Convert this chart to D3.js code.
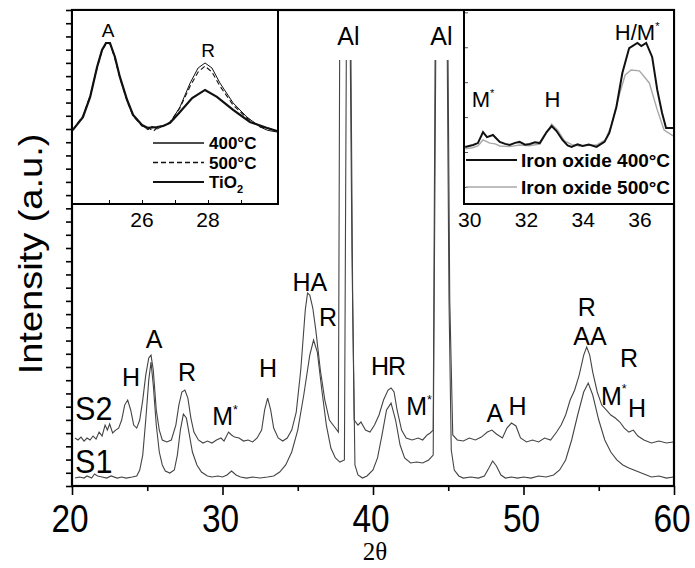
<!DOCTYPE html>
<html>
<head>
<meta charset="utf-8">
<script src="https://cdn.jsdelivr.net/npm/d3@7"></script>
<style>
  body { margin: 0; background: #fff; }
  svg { display: block; }
  text { font-family: "Liberation Sans", Arial, sans-serif; fill: #000; }
</style>
</head>
<body>
<div id="chart"></div>
<script>
// ---- data (2θ in degrees, intensity in a.u.) ----
const s1 = [
  [20.2, 6.0], [20.5, 6.8], [20.8, 6.0], [21.0, 7.6], [21.3, 6.0], [21.5, 9.1], [21.7, 7.6],
  [22.0, 6.8], [22.3, 6.0], [22.6, 7.6], [23.0, 6.0], [23.3, 6.8], [23.6, 6.0], [24.0, 6.8],
  [24.3, 7.6], [24.5, 12.1], [24.7, 23.4], [24.9, 49.9], [25.1, 80.1], [25.25, 93.7], [25.4, 76.4],
  [25.6, 46.1], [25.8, 25.7], [26.0, 15.9], [26.2, 11.3], [26.5, 9.8], [26.8, 12.1], [27.0, 23.4],
  [27.2, 42.3], [27.4, 54.4], [27.6, 51.4], [27.8, 38.6], [28.0, 25.7], [28.3, 15.9], [28.6, 10.6],
  [29.0, 7.6], [29.3, 6.8], [29.7, 7.6], [30.0, 6.8], [30.3, 8.3], [30.6, 11.3], [30.9, 8.3],
  [31.2, 6.8], [31.6, 6.0], [32.0, 6.8], [32.5, 6.0], [33.0, 6.8], [33.4, 7.6], [33.8, 10.6],
  [34.2, 15.9], [34.6, 25.7], [35.0, 42.3], [35.4, 68.8], [35.8, 99.0], [36.05, 110.4], [36.3, 101.3],
  [36.6, 72.6], [36.9, 46.1], [37.2, 28.7], [37.5, 21.2], [37.8, 18.1], [38.1, 19.7], [38.25, 380],
  [38.5, 380], [38.65, 140.6], [38.8, 15.9], [39.0, 8.3], [39.3, 6.0], [39.6, 7.6], [40.0, 12.1],
  [40.3, 21.2], [40.6, 38.6], [40.9, 57.5], [41.2, 62.7], [41.5, 49.9], [41.8, 31.0], [42.1, 21.2],
  [42.5, 17.4], [42.9, 18.1], [43.3, 17.4], [43.7, 19.7], [44.0, 23.4], [44.2, 380], [44.9, 380],
  [45.05, 140.6], [45.2, 27.2], [45.4, 12.1], [45.7, 7.6], [46.0, 6.0], [46.5, 6.8], [47.0, 6.0],
  [47.4, 7.6], [47.7, 13.6], [47.95, 18.9], [48.2, 15.1], [48.5, 8.3], [48.8, 6.0], [49.2, 6.8],
  [49.6, 6.0], [50.0, 6.8], [50.5, 6.0], [51.0, 7.6], [51.5, 6.8], [52.0, 8.3], [52.4, 12.1],
  [52.8, 19.7], [53.2, 34.8], [53.6, 53.7], [54.0, 71.1], [54.3, 77.9], [54.6, 68.8], [55.0, 49.9],
  [55.4, 34.8], [55.8, 25.7], [56.2, 19.7], [56.6, 15.9], [57.0, 13.6], [57.5, 11.3], [58.0, 9.1],
  [58.5, 6.8], [59.0, 7.6], [59.5, 6.0], [59.95, 6.8]
];
const s2 = [
  [20.2, 36.3], [20.4, 34.8], [20.6, 37.0], [20.8, 34.0], [21.0, 36.3], [21.2, 34.8], [21.4, 37.8],
  [21.6, 35.5], [21.8, 40.8], [22.0, 37.8], [22.2, 46.1], [22.35, 42.3], [22.5, 46.9], [22.7, 40.1],
  [22.9, 42.3], [23.1, 43.8], [23.3, 49.9], [23.5, 61.2], [23.7, 65.0], [23.9, 57.5], [24.1, 46.1],
  [24.3, 43.8], [24.5, 49.9], [24.7, 65.0], [24.9, 83.9], [25.1, 96.8], [25.25, 99.0], [25.4, 87.7],
  [25.6, 57.5], [25.8, 42.3], [26.0, 34.8], [26.3, 33.3], [26.6, 34.8], [26.9, 46.1], [27.1, 61.2],
  [27.3, 71.1], [27.5, 72.6], [27.7, 66.5], [27.9, 51.4], [28.1, 40.8], [28.4, 34.8], [28.7, 32.5],
  [29.0, 34.0], [29.3, 32.5], [29.6, 34.8], [29.9, 36.3], [30.1, 34.0], [30.4, 40.8], [30.6, 38.6],
  [30.8, 37.0], [31.1, 36.3], [31.4, 34.0], [31.7, 34.8], [32.0, 33.3], [32.3, 36.3], [32.6, 42.3],
  [32.8, 57.5], [33.0, 66.5], [33.2, 57.5], [33.4, 43.8], [33.7, 36.3], [34.0, 34.0], [34.3, 36.3],
  [34.6, 42.3], [34.9, 55.9], [35.2, 87.7], [35.5, 133.1], [35.65, 145.9], [35.8, 144.4], [36.0, 134.6],
  [36.2, 117.9], [36.5, 87.7], [36.8, 65.0], [37.1, 49.9], [37.4, 45.4], [37.7, 40.8], [37.8, 380],
  [38.45, 380], [38.6, 178.4], [38.75, 49.9], [39.0, 46.1], [39.2, 48.4], [39.5, 42.3], [39.8, 40.8],
  [40.1, 46.1], [40.4, 53.7], [40.7, 65.0], [41.0, 72.6], [41.2, 74.1], [41.4, 71.1], [41.6, 57.5],
  [41.9, 42.3], [42.2, 36.3], [42.6, 34.8], [43.0, 36.3], [43.3, 34.8], [43.6, 38.6], [43.8, 40.1],
  [44.0, 42.3], [44.15, 380], [44.95, 380], [45.1, 140.6], [45.3, 38.6], [45.6, 34.8], [46.0, 34.0],
  [46.4, 36.3], [46.8, 34.8], [47.2, 37.0], [47.6, 40.8], [47.9, 42.3], [48.2, 39.3], [48.6, 36.3],
  [48.9, 43.8], [49.2, 47.6], [49.5, 45.4], [49.8, 36.3], [50.2, 33.3], [50.6, 34.8], [51.0, 33.3],
  [51.4, 36.3], [51.8, 34.8], [52.2, 40.8], [52.5, 46.1], [52.8, 53.7], [53.1, 65.0], [53.4, 72.6],
  [53.7, 83.9], [54.0, 99.0], [54.2, 105.1], [54.4, 99.0], [54.6, 86.2], [54.9, 71.1], [55.2, 61.2],
  [55.5, 57.5], [55.8, 53.7], [56.1, 51.4], [56.4, 48.4], [56.7, 43.8], [57.0, 40.8], [57.3, 42.3],
  [57.6, 37.8], [58.0, 34.8], [58.5, 32.5], [59.0, 34.0], [59.5, 32.5], [59.95, 33.3]
];

// inset 1: TiO2 anatase/rutile region
const ti400 = [
  [23.9, 38.1], [24.21, 44.8], [24.43, 55.2], [24.64, 70.6], [24.79, 79.4], [24.91, 83.0], [25.03, 83.0],
  [25.18, 75.8], [25.33, 65.5], [25.55, 53.6], [25.73, 45.9], [26.0, 40.7], [26.18, 38.2], [26.3, 40.0],
  [26.46, 38.7], [26.64, 40.2], [26.85, 41.8], [27.15, 50.0], [27.46, 62.4], [27.7, 70.1], [27.91, 72.7],
  [28.12, 70.1], [28.36, 62.4], [28.76, 52.1], [29.18, 44.8], [29.58, 39.7], [29.8, 38.0], [30.09, 37.1]
];
const ti500 = [
  [23.9, 38.1], [24.21, 45.3], [24.43, 55.8], [24.64, 70.1], [24.79, 79.0], [24.91, 82.5], [25.03, 82.7],
  [25.18, 75.0], [25.33, 65.0], [25.55, 53.0], [25.73, 45.4], [26.0, 40.2], [26.2, 39.2], [26.35, 37.6],
  [26.5, 39.9], [26.7, 40.6], [26.85, 42.3], [27.15, 49.5], [27.46, 60.8], [27.7, 68.0], [27.91, 71.1],
  [28.12, 68.0], [28.36, 60.8], [28.76, 51.0], [29.18, 44.3], [29.58, 39.7], [29.85, 39.0], [30.09, 37.6]
];
const tiO2 = [
  [23.9, 38.1], [24.21, 44.8], [24.43, 55.2], [24.64, 70.6], [24.79, 79.4], [24.91, 83.0], [25.03, 83.0],
  [25.18, 75.8], [25.33, 65.5], [25.55, 53.6], [25.73, 45.9], [26.0, 40.7], [26.18, 39.2], [26.46, 39.7],
  [26.64, 40.2], [26.85, 41.8], [27.15, 47.4], [27.52, 54.6], [27.91, 58.8], [28.27, 55.2], [28.76, 48.5],
  [29.27, 42.3], [29.79, 39.2], [30.09, 37.6]
];

// inset 2: iron oxide region
const fe400 = [
  [29.84, 29.4], [30.12, 30.4], [30.29, 31.4], [30.47, 37.1], [30.61, 34.5], [30.82, 35.6], [31.06, 32.0],
  [31.25, 31.0], [31.41, 30.4], [31.6, 31.5], [31.76, 32.0], [31.95, 30.6], [32.12, 30.9], [32.3, 31.8],
  [32.47, 31.4], [32.71, 37.1], [32.89, 40.2], [33.06, 37.6], [33.27, 33.0], [33.45, 30.2], [33.59, 29.4],
  [33.8, 30.8], [33.98, 29.9], [34.2, 30.6], [34.47, 29.4], [34.75, 32.0], [34.92, 36.6], [35.17, 50.0],
  [35.38, 67.5], [35.62, 80.4], [35.91, 83.0], [36.05, 81.4], [36.22, 83.0], [36.43, 75.8], [36.61, 58.8],
  [36.78, 46.9], [36.92, 39.2], [37.17, 39.2]
];
const fe500 = [
  [29.84, 28.4], [30.1, 29.0], [30.29, 29.9], [30.47, 33.0], [30.71, 31.4], [30.9, 31.0], [31.06, 29.9],
  [31.4, 29.6], [31.76, 30.4], [32.1, 30.0], [32.47, 30.9], [32.71, 36.6], [32.89, 41.2], [33.1, 38.1],
  [33.34, 32.5], [33.6, 30.6], [33.87, 29.9], [34.2, 30.2], [34.47, 30.4], [34.78, 33.0], [35.0, 40.7],
  [35.27, 56.2], [35.48, 66.5], [35.69, 69.1], [35.98, 68.6], [36.33, 62.4], [36.61, 48.5], [36.85, 38.1],
  [37.17, 35.1]
];

// phase labels: [text, 2θ, intensity]
const peakLabels = [
  ["H", 23.92, 75.6], ["A", 25.45, 104.3], ["R", 27.64, 79.4], ["M*", 30.17, 46.1], ["H", 33.02, 82.4],
  ["HA", 35.81, 147.4], ["R", 37.01, 121.0], ["Al", 38.37, 333.4], ["Al", 44.55, 333.4],
  ["H", 40.47, 83.9], ["R", 41.6, 83.9], ["M*", 43.06, 53.7], ["A", 48.1, 48.4], ["H", 49.6, 53.7],
  ["R", 54.2, 128.5], ["AA", 54.42, 106.6], ["R", 57.01, 90.0], ["M*", 56.0, 61.5], ["H", 57.55, 52.5]
];
const sampleLabels = [["S2", 20.2, 49.9], ["S1", 20.2, 9.8]];
const inset1Labels = [["A", 24.97, 86.1], ["R", 28.0, 75.8]];
const inset2Labels = [["M*", 30.47, 50.0], ["H", 32.92, 50.0], ["H/M*", 35.9, 84.5]];
const mainTicks = [20, 30, 40, 50, 60];
const inset1Ticks = [26, 28];
const inset2Ticks = [30, 32, 34, 36];

// ---- chart ----
const width = 695, height = 568;
const margin = {left: 72, right: 21, top: 10, bottom: 82};

const svg = d3.select("#chart").append("svg")
  .attr("width", width)
  .attr("height", height);

const x = d3.scaleLinear().domain([20, 60]).range([margin.left, width - margin.right]);
const y = d3.scaleLinear().domain([0, 360]).range([height - margin.bottom, margin.top]);

svg.append("clipPath").attr("id", "clip")
  .append("rect")
  .attr("x", margin.left).attr("y", 60)
  .attr("width", width - margin.left - margin.right)
  .attr("height", height - margin.bottom - 60);

const line = d3.line().x(d => x(d[0])).y(d => y(d[1]));

svg.append("g").attr("clip-path", "url(#clip)")
  .selectAll("path")
  .data([s2, s1])
  .join("path")
  .attr("d", line)
  .attr("fill", "none")
  .attr("stroke", "#444")
  .attr("stroke-width", 1.1);

// left axis: ticks only
svg.append("g")
  .attr("transform", `translate(${margin.left},0)`)
  .call(d3.axisLeft(y).tickValues(d3.range(0, 361, 10)).tickFormat("").tickSize(6).tickSizeOuter(0))
  .call(g => g.select(".domain").remove())
  .call(g => g.selectAll(".tick line").attr("stroke-width", 1.6));

// bottom axis
svg.append("g")
  .attr("transform", `translate(0,${height - margin.bottom})`)
  .call(d3.axisBottom(x).tickValues(d3.range(20, 61, 5)).tickFormat("").tickSizeOuter(0))
  .call(g => g.select(".domain").remove())
  .call(g => g.selectAll(".tick line")
    .attr("y2", d => d % 10 === 0 ? 9 : 5)
    .attr("stroke-width", 1.6));

svg.append("g")
  .selectAll("text")
  .data(mainTicks)
  .join("text")
  .attr("transform", d => `translate(${x(d) - 2},532) scale(0.88,1)`)
  .attr("text-anchor", "middle")
  .attr("font-size", 38)
  .text(d => d);

// frame
svg.append("rect")
  .attr("x", margin.left).attr("y", margin.top)
  .attr("width", width - margin.left - margin.right)
  .attr("height", height - margin.top - margin.bottom)
  .attr("fill", "none")
  .attr("stroke", "#000")
  .attr("stroke-width", 2.2);

svg.append("text")
  .attr("x", (margin.left + width - margin.right) / 2 + 2)
  .attr("y", 560)
  .attr("text-anchor", "middle")
  .style("font-family", "'Liberation Serif', 'Times New Roman', serif")
  .attr("font-size", 25)
  .text("2θ");

svg.append("text")
  .attr("transform", "translate(42,254) rotate(-90) scale(1,0.85)")
  .attr("text-anchor", "middle")
  .attr("font-size", 38)
  .text("Intensity (a.u.)");

function addLabel(g, d, xs, ys, size) {
  const parts = d[0].split("*");
  const t = g.append("text")
    .attr("x", xs(d[1]))
    .attr("y", ys(d[2]))
    .attr("text-anchor", "middle")
    .attr("font-size", size);
  t.append("tspan").text(parts[0]);
  if (d[0].includes("*")) {
    t.append("tspan").attr("font-size", size * 0.5).attr("dy", -size * 0.45).text("*");
  }
}

const labelsG = svg.append("g");
peakLabels.forEach(d => addLabel(labelsG, d, x, y, 25));

svg.append("g")
  .selectAll("text")
  .data(sampleLabels)
  .join("text")
  .attr("transform", d => `translate(${x(d[1])},${y(d[2])}) scale(0.9,1)`)
  .attr("font-size", 34)
  .text(d => d[0]);

// ---- inset 1 ----
const in1 = {left: 72, right: 278, top: 10, bottom: 204};
const x1 = d3.scaleLinear().domain([23.88, 30.12]).range([in1.left, in1.right]);
const y1 = d3.scaleLinear().domain([0, 100]).range([in1.bottom, in1.top]);
const line1 = d3.line().x(d => x1(d[0])).y(d => y1(d[1]));

const g1 = svg.append("g");
g1.append("rect")
  .attr("x", in1.left).attr("y", in1.top)
  .attr("width", in1.right - in1.left).attr("height", in1.bottom - in1.top)
  .attr("fill", "#fff");

const inset1Series = [
  {data: tiO2, dash: null, w: 2.2},
  {data: ti500, dash: "5,3", w: 1.1},
  {data: ti400, dash: null, w: 1}
];
g1.selectAll("path.s")
  .data(inset1Series)
  .join("path")
  .attr("d", d => line1(d.data))
  .attr("fill", "none")
  .attr("stroke", "#111")
  .attr("stroke-width", d => d.w)
  .attr("stroke-dasharray", d => d.dash);

g1.append("g")
  .attr("transform", `translate(0,${in1.bottom})`)
  .call(d3.axisTop(x1).tickValues(d3.range(25, 30, 1)).tickFormat("").tickSize(4).tickSizeOuter(0))
  .call(g => g.select(".domain").remove());

g1.append("rect")
  .attr("x", in1.left).attr("y", in1.top)
  .attr("width", in1.right - in1.left).attr("height", in1.bottom - in1.top)
  .attr("fill", "none").attr("stroke", "#000").attr("stroke-width", 2);

g1.selectAll("text.tick1")
  .data(inset1Ticks)
  .join("text")
  .attr("x", d => x1(d)).attr("y", 227)
  .attr("text-anchor", "middle")
  .attr("font-size", 21)
  .text(d => d);

inset1Labels.forEach(d => addLabel(g1, d, x1, y1, 19));

const leg1 = g1.append("g");
inset1Series.slice().reverse().forEach((s, i) => {
  const ly = 143 + i * 19.5;
  leg1.append("line")
    .attr("x1", 153).attr("x2", 204).attr("y1", ly).attr("y2", ly)
    .attr("stroke", "#111")
    .attr("stroke-width", i === 2 ? 2 : 1.4)
    .attr("stroke-dasharray", s.dash);
});
["400°C", "500°C"].forEach((t, i) => {
  leg1.append("text")
    .attr("x", 209).attr("y", 149 + i * 19.5)
    .attr("font-size", 17).attr("font-weight", "bold")
    .text(t);
});
const tiText = leg1.append("text")
  .attr("x", 209).attr("y", 188)
  .attr("font-size", 17).attr("font-weight", "bold");
tiText.append("tspan").text("TiO");
tiText.append("tspan").attr("font-size", 11).attr("dy", 5).text("2");

// ---- inset 2 ----
const in2 = {left: 464, right: 674, top: 10, bottom: 204};
const x2 = d3.scaleLinear().domain([29.8, 37.2]).range([in2.left, in2.right]);
const y2 = d3.scaleLinear().domain([0, 100]).range([in2.bottom, in2.top]);
const line2 = d3.line().x(d => x2(d[0])).y(d => y2(d[1]));

const g2 = svg.append("g");
g2.append("rect")
  .attr("x", in2.left).attr("y", in2.top)
  .attr("width", in2.right - in2.left).attr("height", in2.bottom - in2.top)
  .attr("fill", "#fff");

const inset2Series = [
  {data: fe500, color: "#a8a8a8", w: 1.4, name: "Iron oxide 500°C"},
  {data: fe400, color: "#111", w: 2, name: "Iron oxide 400°C"}
];
g2.selectAll("path.s")
  .data(inset2Series)
  .join("path")
  .attr("d", d => line2(d.data))
  .attr("fill", "none")
  .attr("stroke", d => d.color)
  .attr("stroke-width", d => d.w);

g2.append("g")
  .attr("transform", `translate(${in2.left},0)`)
  .call(d3.axisRight(y2).tickValues(d3.range(8.8, 100, 18)).tickFormat("").tickSize(4).tickSizeOuter(0))
  .call(g => g.select(".domain").remove())
  .call(g => g.selectAll(".tick line").attr("stroke", "#555"));

g2.append("rect")
  .attr("x", in2.left).attr("y", in2.top)
  .attr("width", in2.right - in2.left).attr("height", in2.bottom - in2.top)
  .attr("fill", "none").attr("stroke", "#000").attr("stroke-width", 2);

g2.selectAll("text.tick2")
  .data(inset2Ticks)
  .join("text")
  .attr("x", d => x2(d)).attr("y", 227)
  .attr("text-anchor", "middle")
  .attr("font-size", 21)
  .text(d => d);

inset2Labels.forEach(d => addLabel(g2, d, x2, y2, 22));

inset2Series.slice().reverse().forEach((s, i) => {
  const ly = 160 + i * 27;
  g2.append("line")
    .attr("x1", 466).attr("x2", 517).attr("y1", ly).attr("y2", ly)
    .attr("stroke", s.color).attr("stroke-width", s.w);
  g2.append("text")
    .attr("x", 521).attr("y", ly + 7)
    .attr("font-size", 19).attr("font-weight", "bold")
    .text(s.name);
});
</script>
</body>
</html>
